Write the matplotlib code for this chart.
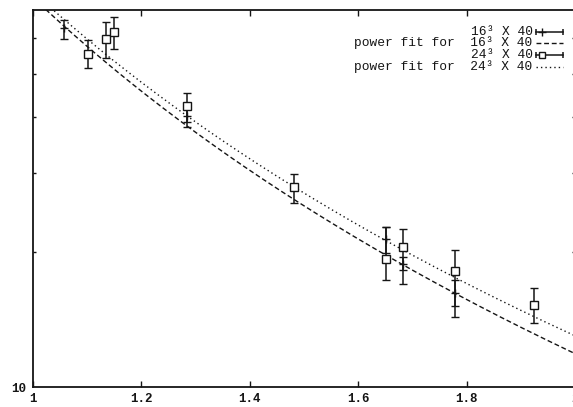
import numpy as np
import matplotlib
matplotlib.use("Agg")
import matplotlib.pyplot as plt
from matplotlib.ticker import NullFormatter

# 16^3 x 40 lattice points (value, lower / upper end of error bar)
x16 = [1.057, 1.285, 1.651, 1.682, 1.778]
y16 = [63.3, 40.3, 21.4, 18.8, 16.2]
lo16 = [59.8, 38.0, 19.9, 18.2, 15.2]
hi16 = [65.9, 42.6, 22.8, 19.5, 17.3]

# 24^3 x 40 lattice points
x24 = [1.102, 1.135, 1.150, 1.285, 1.481, 1.651, 1.682, 1.778, 1.924]
y24 = [55.4, 59.8, 62.0, 42.4, 27.9, 19.3, 20.5, 18.15, 15.24]
lo24 = [51.5, 54.3, 56.8, 39.0, 25.7, 17.3, 17.0, 14.3, 13.9]
hi24 = [59.5, 65.3, 67.0, 45.3, 29.9, 22.8, 22.5, 20.2, 16.6]

# power fits y = a * x^b
fit16 = (74.0, -2.64)
fit24 = (76.2, -2.55)

xticks = [1, 1.2, 1.4, 1.6, 1.8, 2]
xticklabels = ["1", "1.2", "1.4", "1.6", "1.8", "2"]

INK = "#151515"
MONO = ["Liberation Mono", "DejaVu Sans Mono"]

fig = plt.figure(figsize=(5.73, 4.07), dpi=100)
ax = fig.add_axes([33 / 573, 20 / 407, 542 / 573, 377 / 407])

xx = np.linspace(1.0, 2.0, 300)
ax.plot(xx, fit16[0] * xx ** fit16[1], color=INK, lw=1.0, ls=(0, (3.5, 2)))
ax.plot(xx, fit24[0] * xx ** fit24[1], color=INK, lw=1.0, ls=(0, (1, 2.2)))

y16a = np.array(y16)
ax.errorbar(x16, y16, yerr=[y16a - np.array(lo16), np.array(hi16) - y16a],
            fmt="+", color=INK, ms=6, mew=1.0, elinewidth=1.1, capsize=3.0, capthick=1.1)
y24a = np.array(y24)
ax.errorbar(x24, y24, yerr=[y24a - np.array(lo24), np.array(hi24) - y24a],
            fmt="s", color=INK, mfc="white", ms=5.5, mew=1.0, elinewidth=1.1,
            capsize=3.0, capthick=1.1)

ax.set_yscale("log")
ax.set_xlim(1.0, 2.0)
ax.set_ylim(10, 69.4)
ax.set_xticks(xticks, xticklabels)
ax.set_yticks([10], ["10"])
ax.set_yticks([20, 30, 40, 50, 60], minor=True)
ax.yaxis.set_minor_formatter(NullFormatter())
ax.tick_params(which="both", direction="in", top=True, right=True, color=INK,
               labelcolor=INK, labelsize=9, width=1.0)
ax.tick_params(axis="x", length=4.5, pad=4)
ax.tick_params(axis="y", which="major", length=0, pad=5)
ax.tick_params(axis="y", which="minor", length=2.5)
for lab in ax.get_xticklabels() + ax.get_yticklabels():
    lab.set_family(MONO)
    lab.set_weight("bold")
for s in ax.spines.values():
    s.set_linewidth(1.3)
    s.set_color(INK)

# gnuplot style key, top right
rows = [0.9416, 0.9125, 0.8806, 0.8488]
labels = ["16³ X 40", "power fit for  16³ X 40", "24³ X 40", "power fit for  24³ X 40"]
tx, s0, s1 = 0.922, 0.928, 0.978
for yr, lab in zip(rows, labels):
    ax.text(tx, yr, lab, transform=ax.transAxes, ha="right", va="center",
            family=MONO, fontsize=9.3, color=INK)
kw = dict(transform=ax.transAxes, color=INK, clip_on=False)
# errorbar samples
for yr, mk in [(rows[0], "+"), (rows[2], "s")]:
    ax.plot([s0, s1], [yr, yr], lw=1.1, **kw)
    ax.plot([s0, s1], [yr, yr], ls="none", marker="|", ms=5, mew=1.1, **kw)
    ax.plot([s0 + 0.012], [yr], ls="none", marker=mk, ms=5 if mk == "s" else 6,
            mfc="white", mew=1.0, **kw)
ax.plot([s0, s1], [rows[1]] * 2, lw=1.0, ls=(0, (3.5, 2)), **kw)
ax.plot([s0, s1], [rows[3]] * 2, lw=1.0, ls=(0, (1, 2.2)), **kw)

fig.savefig("out.png", dpi=100, facecolor="white")
